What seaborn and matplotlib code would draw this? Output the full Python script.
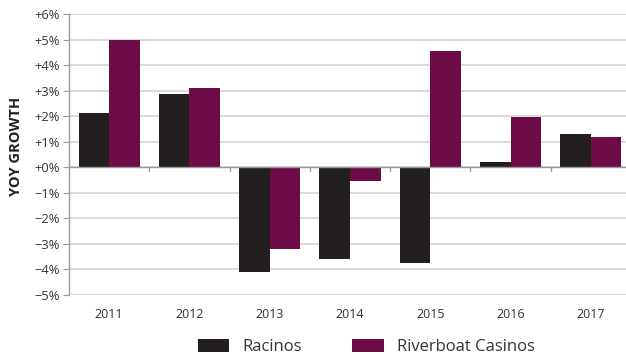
import matplotlib
matplotlib.use("Agg")
import matplotlib.pyplot as plt
import seaborn as sns
import pandas as pd
from matplotlib.ticker import FuncFormatter
from matplotlib.patches import Patch

years = ["2011", "2012", "2013", "2014", "2015", "2016", "2017"]
racinos = [2.13, 2.87, -4.1, -3.6, -3.76, 0.2, 1.29]
riverboat = [4.98, 3.09, -3.2, -0.52, 4.54, 1.96, 1.17]
series_names = ["Racinos", "Riverboat Casinos"]
colors = ["#231f20", "#6d0b47"]
yticks = list(range(-5, 7))

df = pd.DataFrame({
    "Year": years * 2,
    "Growth": racinos + riverboat,
    "Series": [series_names[0]] * len(years) + [series_names[1]] * len(years),
})

sns.set_style("white")
plt.rcParams["font.family"] = ["Open Sans", "DejaVu Sans"]

fig = plt.figure(figsize=(6.26, 3.54), dpi=100)
ax = fig.add_axes([69 / 626, 1 - 295 / 354, (631 - 69) / 626, (295 - 14) / 354])

sns.barplot(data=df, x="Year", y="Growth", hue="Series", palette=colors,
            saturation=1, width=0.76, gap=0, ax=ax, legend=False,
            edgecolor="none", linewidth=0)

ax.set_xlim(-0.5, len(years) - 0.5)
ax.set_ylim(-5, 6)
ax.set_yticks(yticks)
ax.yaxis.set_major_formatter(FuncFormatter(
    lambda v, p: ("+" if v >= 0 else "\u2212") + f"{abs(int(round(v)))}%"))
ax.grid(axis="y", color="#d4d4d4", linewidth=1.2)
ax.set_axisbelow(True)
ax.axhline(0, color="#9a9a9a", linewidth=1.0, zorder=3)

for s in ["top", "right", "bottom"]:
    ax.spines[s].set_visible(False)
ax.spines["left"].set_color("#9a9a9a")
ax.spines["left"].set_linewidth(1.0)

ax.tick_params(axis="y", which="major", left=True, length=4, color="#9a9a9a",
               labelsize=9.3, labelcolor="#333333", pad=3)
ax.tick_params(axis="x", which="major", bottom=False, labelsize=9,
               labelcolor="#333333", pad=6)
# boundary ticks below the zero line
for b in [i + 0.5 for i in range(len(years) - 1)]:
    ax.plot([b, b], [0, -0.13], color="#9a9a9a", linewidth=1.0, zorder=3,
            clip_on=False)

ax.set_xlabel("")
ax.set_ylabel("YOY GROWTH", fontsize=10.5, fontweight="bold", color="#231f20")
ax.yaxis.set_label_coords(-0.082, 0.53)

handles = [Patch(facecolor=c, edgecolor="none") for c in colors]
fig.legend(handles, series_names, loc="lower center", ncol=2,
           bbox_to_anchor=(0.585, -0.045), frameon=False, fontsize=12,
           handlelength=1.9, handleheight=0.8, columnspacing=3.0,
           handletextpad=0.8, labelcolor="#333333")

fig.savefig("out.png", dpi=100)
